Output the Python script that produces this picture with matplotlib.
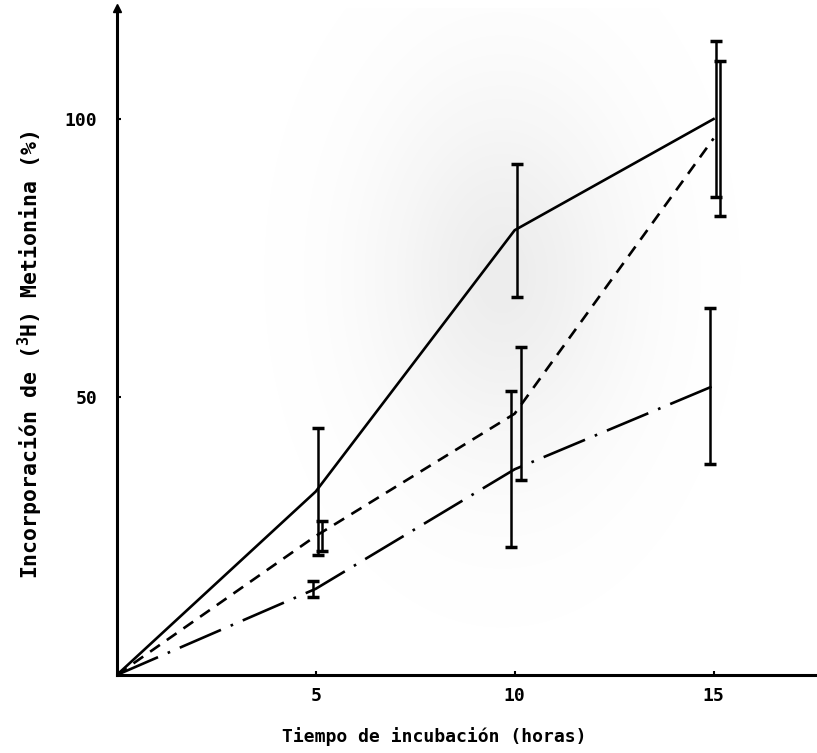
import numpy as np
import matplotlib
matplotlib.use("Agg")
import matplotlib.pyplot as plt

# datos
tiempo = [0, 5, 10, 15]
control = [0, 33, 80, 100]
control_err = [0, 11.5, 12, 14]
trat_a = [0, 25, 47, 96.5]
trat_a_err = [0, 2.7, 12, 14]
trat_b = [0, 15.5, 37, 52]
trat_b_err = [0, 1.4, 14, 14]

plt.rcParams["font.family"] = ["DejaVu Sans Mono", "DejaVu Sans"]
plt.rcParams["font.weight"] = "bold"
plt.rcParams["mathtext.fontset"] = "custom"
plt.rcParams["mathtext.rm"] = "DejaVu Sans Mono:bold"

fig = plt.figure(figsize=(8.17, 7.53), dpi=100)
ax = fig.add_axes([0.143, 0.1036, 0.857, 0.886])

# sombreado gris del escaneo (fondo)
gx, gy = np.meshgrid(np.linspace(0, 1, 200), np.linspace(0, 1, 200))
blob = np.exp(-(((gx - 0.55) / 0.18) ** 2 + ((gy - 0.6) / 0.28) ** 2))
ax.imshow(blob, extent=[0, 17.6, 0, 120], origin="lower", cmap="Greys",
          vmin=0, vmax=7, aspect="auto", zorder=0, interpolation="bilinear")

series = [
    (control, control_err, "-", 0.05),
    (trat_a, trat_a_err, (0, (4.5, 3.2)), 0.15),
    (trat_b, trat_b_err, (0, (17, 4, 1, 4)), -0.08),
]
for vals, errs, ls, dx in series:
    ax.plot(tiempo, vals, color="black", linestyle=ls, linewidth=1.9, zorder=3)
    ax.errorbar(np.array(tiempo[1:]) + dx, vals[1:], yerr=errs[1:], fmt="none",
                ecolor="black", elinewidth=1.8, capsize=4, capthick=2.5, zorder=3)

ax.set_xlim(0, 17.6)
ax.set_ylim(0, 120)
ax.set_xticks([5, 10, 15])
ax.set_yticks([50, 100])
ax.tick_params(direction="in", length=3, width=1.5, labelsize=13)
ax.tick_params(axis="x", pad=9)
ax.tick_params(axis="y", pad=14)
for lab in ax.get_xticklabels() + ax.get_yticklabels():
    lab.set_fontweight("bold")

for s in ["top", "right"]:
    ax.spines[s].set_visible(False)
for s in ["left", "bottom"]:
    ax.spines[s].set_linewidth(2.2)
ax.plot(0, 1, marker="^", color="black", markersize=6, transform=ax.transAxes,
        clip_on=False, zorder=5)

ax.set_xlabel("Tiempo de incubación (horas)", fontsize=13, fontweight="bold")
ax.set_ylabel(r"Incorporación de ($^{3}$H) Metionina (%)", fontsize=15.5,
              fontweight="bold")
ax.xaxis.set_label_coords(0.453, -0.078)
ax.yaxis.set_label_coords(-0.103, 0.48)

fig.savefig("out.png", dpi=100)
